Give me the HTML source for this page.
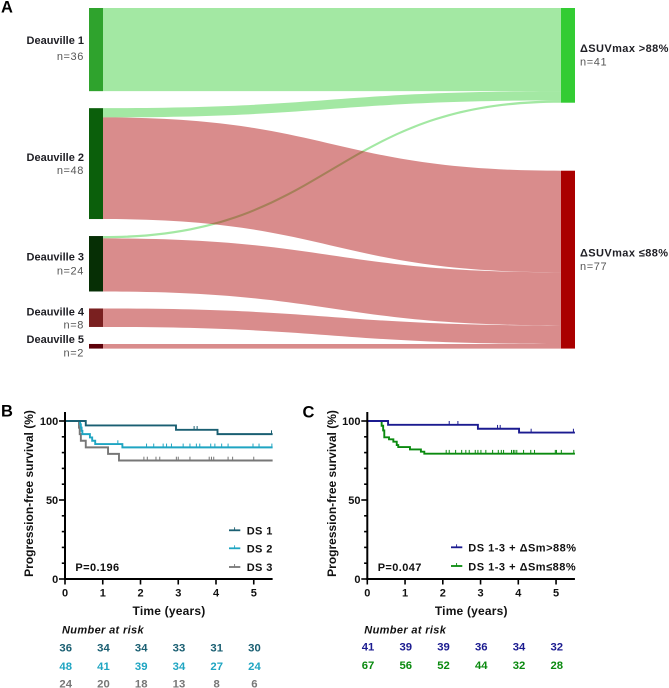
<!DOCTYPE html>
<html lang="en">
<head>
<meta charset="utf-8">
<title>Deauville score, SUVmax change and progression-free survival</title>
<style>
html,body{margin:0;padding:0;background:#fff;}
body{width:669px;height:688px;overflow:hidden;}
svg{display:block;font-family:"Liberation Sans",Arial,sans-serif;}
text{font-weight:700;}
</style>
</head>
<body>
<svg id="figure" xmlns="http://www.w3.org/2000/svg" width="669" height="688" viewBox="0 0 669 688"></svg>
<script>
// ---------- Sankey data ----------
const leftNodeLabels = ['Deauville 1','Deauville 2','Deauville 3','Deauville 4','Deauville 5'];
const leftNodeCounts = [36,48,24,8,2];
const rightNodeLabels = ['ΔSUVmax >88%','ΔSUVmax ≤88%'];
const rightNodeCounts = [41,77];
const flowSource = [0,1,2,1,2,3,4];
const flowTarget = [0,0,0,1,1,1,1];
const flowValues = [36,4,1,44,23,8,2];
const leftNodeColors = ['#2fa32d','#0b5f0b','#062f05','#7a2020','#5c0008'];
const rightNodeColors = ['#33cc33','#aa0000'];

// ---------- Panel B data ----------
const ds1Times = [0.55,2.94,4.04];
const ds1Survival = [97.2,94.4,91.7];
const ds1Censored = [3.42,3.50,5.47];
const ds2Times = [0.40,0.42,0.44,0.46,0.66,0.72,0.80,1.52];
const ds2Survival = [97.9,95.8,93.8,91.7,89.6,87.5,85.4,83.3];
const ds2Censored = [1.40,2.16,2.35,2.60,2.69,2.82,3.13,3.31,3.48,3.57,3.86,3.97,4.15,4.32,4.98,5.14,5.48];
const ds3Times = [0.37,0.39,0.42,0.55,1.14,1.43];
const ds3Survival = [95.8,91.7,87.5,83.3,79.2,75.0];
const ds3Censored = [2.09,2.18,2.41,2.51,2.95,3.00,3.31,3.82,3.88,3.94,4.32,4.44,5.00];
const riskB1 = [36,34,34,33,31,30];
const riskB2 = [48,41,39,34,27,24];
const riskB3 = [24,20,18,13,8,6];

// ---------- Panel C data ----------
const highTimes = [0.55,2.93,4.02];
const highSurvival = [97.6,95.1,92.7];
const highCensored = [2.17,2.40,3.45,3.52,4.34,5.46];
const lowTimes = [0.38,0.42,0.45,0.575,0.69,0.78,0.82,1.13,1.42,1.51];
const lowSurvival = [97,94,89.7,88.4,86.9,84.8,83.5,82,80.6,79.3];
const lowCensored = [2.09,2.17,2.34,2.50,2.61,2.70,2.86,2.93,3.01,3.14,3.32,3.47,3.55,3.61,3.82,3.87,3.91,3.96,4.14,4.33,4.43,4.98,5.01,5.14,5.47];
const riskC1 = [41,39,39,36,34,32];
const riskC2 = [67,56,52,44,32,28];

// ---------- Shared axis data ----------
const xTickValues = [0,1,2,3,4,5];
const yTickValues = [0,10,20,30,40,50,60,70,80,90,100];
const yTickLabels = [0,50,100];

const NS = 'http://www.w3.org/2000/svg';
const figure = document.getElementById('figure');

function mk(parent, tag, name, attrs, content) {
  const el = document.createElementNS(NS, tag);
  
  
  for (const k in attrs) el.setAttribute(k, attrs[k]);
  if (content !== undefined) el.textContent = content;
  parent.appendChild(el);
  return el;
}

// ---------- Panel letters ----------
mk(figure, 'text', 'panel-label-a', {x:1, y:12.5, 'font-size':16.5, fill:'#000'}, 'A');
mk(figure, 'text', 'panel-label-b', {x:1, y:416.5, 'font-size':16.5, fill:'#000'}, 'B');
mk(figure, 'text', 'panel-label-c', {x:302.5, y:417.5, 'font-size':16.5, fill:'#000'}, 'C');

// ---------- Sankey ----------
function drawSankey() {
  const g = mk(figure, 'g', 'sankey-diagram', {});
  const top = 8, pxPerPatient = 2.31, leftGap = 17, rightGap = 68;
  const leftX0 = 89, leftX1 = 103, rightX0 = 561, rightX1 = 575;
  const h = v => v * pxPerPatient;

  const leftY = [];
  let y = top;
  leftNodeCounts.forEach(c => { leftY.push(y); y += h(c) + leftGap; });
  const rightY = [];
  y = top;
  rightNodeCounts.forEach(c => { rightY.push(y); y += h(c) + rightGap; });

  const lOff = leftY.slice(), rOff = rightY.slice();
  const mid = (leftX1 + rightX0) / 2;
  const flowLayer = mk(g, 'g', 'sankey-flows', {});
  flowValues.forEach((v, i) => {
    const s = flowSource[i], t = flowTarget[i];
    const y0 = lOff[s], y1 = rOff[t], w = h(v);
    lOff[s] += w; rOff[t] += w;
    const d = 'M' + leftX1 + ' ' + y0 +
      ' C' + mid + ' ' + y0 + ' ' + mid + ' ' + y1 + ' ' + rightX0 + ' ' + y1 +
      ' L' + rightX0 + ' ' + (y1 + w) +
      ' C' + mid + ' ' + (y1 + w) + ' ' + mid + ' ' + (y0 + w) + ' ' + leftX1 + ' ' + (y0 + w) + ' Z';
    mk(flowLayer, 'path', 'flow-' + (s + 1) + '-to-' + (t + 1), {d:d, fill:rightNodeColors[t], 'fill-opacity':0.45});
  });

  const labelOffsets = [[36,52],[52.7,66],[24.7,38.3],[7,20],[-1,12.7]];
  leftNodeCounts.forEach((c, i) => {
    mk(g, 'rect', 'left-node-deauville-' + (i + 1), {x:leftX0, y:leftY[i], width:leftX1 - leftX0, height:h(c), fill:leftNodeColors[i]});
    mk(g, 'text', 'left-node-label-' + (i + 1), {x:84, y:leftY[i] + labelOffsets[i][0], 'text-anchor':'end', 'font-size':11, fill:'#1e1e24'}, leftNodeLabels[i]);
    mk(g, 'text', 'left-node-count-' + (i + 1), {x:84, y:leftY[i] + labelOffsets[i][1], 'text-anchor':'end', 'font-size':11, 'letter-spacing':0.6, style:'font-weight:400', fill:'#555'}, 'n=' + c);
  });
  const rightLabelBase = [52, 256.7];
  rightNodeCounts.forEach((c, i) => {
    mk(g, 'rect', 'right-node-' + (i + 1), {x:rightX0, y:rightY[i], width:rightX1 - rightX0, height:h(c), fill:rightNodeColors[i]});
    mk(g, 'text', 'right-node-label-' + (i + 1), {x:580, y:rightLabelBase[i], 'font-size':11, 'letter-spacing':0.4, fill:'#1e1e24'}, rightNodeLabels[i]);
    mk(g, 'text', 'right-node-count-' + (i + 1), {x:580, y:rightLabelBase[i] + 13.5, 'font-size':11, 'letter-spacing':0.6, style:'font-weight:400', fill:'#555'}, 'n=' + c);
  });
}

// ---------- Kaplan-Meier panels ----------
function drawKM(cfg) {
  const g = mk(figure, 'g', cfg.name, {});
  const xS = t => cfg.x0 + t * 37.75;
  const yS = v => 579 - v * 1.58;

  cfg.series.forEach(s => {
    const sg = mk(g, 'g', s.name + '-series', {});
    let d = 'M' + xS(0) + ' ' + yS(100);
    let prev = 100;
    s.times.forEach((t, i) => {
      d += ' L' + xS(t) + ' ' + yS(prev) + ' L' + xS(t) + ' ' + yS(s.surv[i]);
      prev = s.surv[i];
    });
    d += ' L' + xS(5.5) + ' ' + yS(prev);
    mk(sg, 'path', s.name + '-curve', {d:d, fill:'none', stroke:s.color, 'stroke-width':1.9});
    s.cens.forEach(t => {
      let v = 100;
      s.times.forEach((tt, i) => { if (tt <= t) v = s.surv[i]; });
      mk(sg, 'line', s.name + '-censor-mark', {x1:xS(t), x2:xS(t), y1:yS(v) - 3.8, y2:yS(v), stroke:s.color, 'stroke-width':1});
    });
  });

  const axis = mk(g, 'g', cfg.name + '-axes', {});
  mk(axis, 'line', 'y-axis', {x1:xS(0), x2:xS(0), y1:412, y2:580, stroke:'#000', 'stroke-width':2});
  mk(axis, 'line', 'x-axis', {x1:xS(0) - 1, x2:xS(5.5), y1:579, y2:579, stroke:'#000', 'stroke-width':2});
  yTickValues.forEach(v => {
    const major = yTickLabels.indexOf(v) >= 0;
    mk(axis, 'line', 'y-tick-' + v, {x1:xS(0) - (major ? 6 : 3.2), x2:xS(0), y1:yS(v), y2:yS(v), stroke:'#000', 'stroke-width':1.6});
    if (major) mk(axis, 'text', 'y-tick-label-' + v, {x:xS(0) - 6.8, y:yS(v) + 4, 'text-anchor':'end', 'font-size':11, fill:'#111'}, v);
  });
  xTickValues.forEach(t => {
    mk(axis, 'line', 'x-tick-' + t, {x1:xS(t), x2:xS(t), y1:579, y2:584.5, stroke:'#000', 'stroke-width':1.6});
    mk(axis, 'text', 'x-tick-label-' + t, {x:xS(t), y:596.5, 'text-anchor':'middle', 'font-size':11, fill:'#111'}, t);
  });
  mk(axis, 'text', 'x-axis-title', {x:xS(0) + 104, y:615, 'text-anchor':'middle', 'font-size':12, 'letter-spacing':0.2, fill:'#111'}, 'Time (years)');
  mk(axis, 'text', 'y-axis-title', {transform:'translate(' + cfg.titleX + ' 493.5) rotate(-90)', 'text-anchor':'middle', 'font-size':12, fill:'#111'}, 'Progression-free survival (%)');

  mk(g, 'text', 'p-value', {x:xS(0) + 10.4, y:571, 'font-size':11, 'letter-spacing':0.4, fill:'#111'}, cfg.pValue);

  cfg.legend.forEach((e, i) => {
    const lg = mk(g, 'g', 'legend-entry-' + (i + 1), {});
    mk(lg, 'line', 'legend-line', {x1:e.lx, x2:e.lx + 11.3, y1:e.ly, y2:e.ly, stroke:e.color, 'stroke-width':1.8});
    mk(lg, 'line', 'legend-censor-mark', {x1:e.lx + 5.6, x2:e.lx + 5.6, y1:e.ly - 3, y2:e.ly, stroke:e.color, 'stroke-width':0.9});
    mk(lg, 'text', 'legend-label', {x:e.tx, y:e.ty, 'font-size':11, 'letter-spacing':e.sp, fill:'#111'}, e.text);
  });

  mk(g, 'text', 'risk-table-title', {x:xS(0) - 3, y:633.3, 'font-size':11, 'font-style':'italic', 'letter-spacing':0.35, fill:'#111'}, 'Number at risk');
  cfg.risk.forEach(r => {
    r.values.forEach((v, i) => {
      mk(g, 'text', r.name + '-risk-count', {x:xS(xTickValues[i]) + 0.7, y:r.y, 'text-anchor':'middle', 'font-size':11.3, fill:r.color}, v);
    });
  });
}

const tealDark = '#1a5f72', teal = '#1fa5c2', grey = '#777777', navy = '#1b1b90', green = '#0a8a0f';

drawSankey();

drawKM({
  name:'km-panel-b', x0:65, titleX:33, pValue:'P=0.196',
  series:[
    {name:'ds3', times:ds3Times, surv:ds3Survival, cens:ds3Censored, color:grey},
    {name:'ds2', times:ds2Times, surv:ds2Survival, cens:ds2Censored, color:teal},
    {name:'ds1', times:ds1Times, surv:ds1Survival, cens:ds1Censored, color:tealDark}
  ],
  legend:[
    {lx:229, ly:530.3, tx:246.7, ty:534.3, sp:0.4, color:tealDark, text:'DS 1'},
    {lx:229, ly:548.3, tx:246.7, ty:552.6, sp:0.4, color:teal, text:'DS 2'},
    {lx:229, ly:567, tx:246.7, ty:571, sp:0.4, color:grey, text:'DS 3'}
  ],
  risk:[
    {name:'ds1', values:riskB1, y:651.7, color:tealDark},
    {name:'ds2', values:riskB2, y:670, color:teal},
    {name:'ds3', values:riskB3, y:687.4, color:grey}
  ]
});

drawKM({
  name:'km-panel-c', x0:367.3, titleX:336, pValue:'P=0.047',
  series:[
    {name:'low-response', times:lowTimes, surv:lowSurvival, cens:lowCensored, color:green},
    {name:'high-response', times:highTimes, surv:highSurvival, cens:highCensored, color:navy}
  ],
  legend:[
    {lx:451, ly:547.3, tx:468.3, ty:551.7, sp:0.5, color:navy, text:'DS 1-3 + ΔSm>88%'},
    {lx:451, ly:566, tx:468.3, ty:570.7, sp:0.5, color:green, text:'DS 1-3 + ΔSm≤88%'}
  ],
  risk:[
    {name:'high-response', values:riskC1, y:650.7, color:navy},
    {name:'low-response', values:riskC2, y:669, color:green}
  ]
});
</script>
</body>
</html>
